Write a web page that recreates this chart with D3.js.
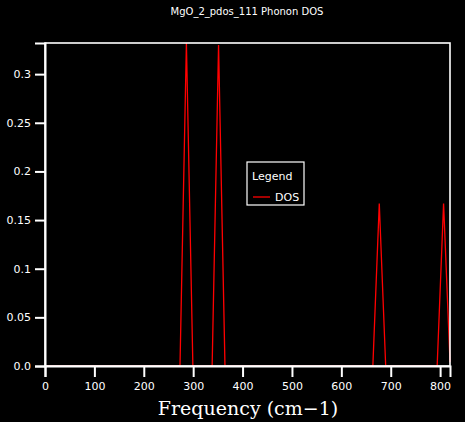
<!DOCTYPE html>
<html>
<head>
<meta charset="utf-8">
<script src="https://cdn.jsdelivr.net/npm/d3@7"></script>
<style>
  html, body { margin: 0; padding: 0; background: #000; }
  svg { display: block; }
</style>
</head>
<body>
<div id="chart"></div>
<script>
// ---- Data ----
const title = "MgO_2_pdos_111 Phonon DOS";
const xLabel = "Frequency (cm\u22121)";
const seriesName = "DOS";
const frequencies = [0, 273.3, 286.3, 299.4, 338.4, 351.4, 364.4, 663.8, 676.8, 689.8, 794.0, 807.0, 820.0];
const dosValues   = [0, 0,     0.332, 0,     0,     0.330, 0,     0,     0.167, 0,     0,     0.167, 0.004];
const xTicks = [0, 100, 200, 300, 400, 500, 600, 700, 800];
const xTickLabels = ["0", "100", "200", "300", "400", "500", "600", "700", "800"];
const yTicks = [0, 0.05, 0.1, 0.15, 0.2, 0.25, 0.3];
const yTickLabels = ["0.0", "0.05", "0.1", "0.15", "0.2", "0.25", "0.3"];
const xDomain = [0, 820];
const yDomain = [0, 0.332];

// ---- Layout ----
const W = 465, H = 422;
const pLeft = 45, pRight = 450, pTop = 43, pBottom = 366;

const svg = d3.select("#chart").append("svg")
  .attr("width", W).attr("height", H)
  .style("background", "#000");

svg.append("rect").attr("width", W).attr("height", H).attr("fill", "#000");

const x = d3.scaleLinear().domain(xDomain).range([pLeft, pRight]);
const y = d3.scaleLinear().domain(yDomain).range([pBottom, pTop]);

const points = frequencies.map((f, i) => ({ f, v: dosValues[i] }));

// clip for the series
svg.append("clipPath").attr("id", "plotclip")
  .append("rect").attr("x", pLeft).attr("y", pTop)
  .attr("width", pRight - pLeft + 1).attr("height", pBottom - pTop);

// series line
svg.append("path")
  .datum(points)
  .attr("clip-path", "url(#plotclip)")
  .attr("fill", "none")
  .attr("stroke", "#ff0000")
  .attr("stroke-width", 1.3)
  .attr("d", d3.line().x(d => x(d.f)).y(d => y(d.v)));

// frame
svg.append("rect")
  .attr("x", pLeft).attr("y", pTop)
  .attr("width", pRight - pLeft).attr("height", pBottom - pTop)
  .attr("fill", "none").attr("stroke", "#fff").attr("stroke-width", 1.6);

// x axis
const xAxis = d3.axisBottom(x)
  .tickValues(xTicks)
  .tickSize(11)
  .tickPadding(5)
  .tickFormat((d, i) => xTickLabels[i]);
const gx = svg.append("g").attr("transform", `translate(0,${pBottom})`).call(xAxis);
gx.select(".domain").attr("stroke", "#fff").attr("stroke-width", 2);
gx.selectAll(".tick line").attr("stroke", "#fff").attr("stroke-width", 2);
gx.selectAll(".tick text")
  .attr("fill", "#fff")
  .style("font-family", "DejaVu Sans")
  .style("font-size", "11px");

// y axis
const yAxis = d3.axisLeft(y)
  .tickValues(yTicks)
  .tickSize(10)
  .tickPadding(4)
  .tickFormat((d, i) => yTickLabels[i]);
const gy = svg.append("g").attr("transform", `translate(${pLeft},0)`).call(yAxis);
gy.select(".domain").attr("stroke", "#fff").attr("stroke-width", 2);
gy.selectAll(".tick line").attr("stroke", "#fff").attr("stroke-width", 2);
gy.selectAll(".tick text")
  .attr("fill", "#fff")
  .style("font-family", "DejaVu Sans")
  .style("font-size", "11px");

// title
svg.append("text")
  .attr("x", 247).attr("y", 15)
  .attr("text-anchor", "middle")
  .attr("fill", "#fff")
  .style("font-family", "DejaVu Sans")
  .style("font-size", "10px")
  .text(title);

// x label
svg.append("text")
  .attr("x", 248).attr("y", 415)
  .attr("text-anchor", "middle")
  .attr("fill", "#fff")
  .style("font-family", "DejaVu Serif")
  .style("font-size", "19px")
  .text(xLabel);

// legend
const lg = svg.append("g");
lg.append("rect")
  .attr("x", 247).attr("y", 162)
  .attr("width", 57).attr("height", 43)
  .attr("fill", "#000").attr("stroke", "#fff").attr("stroke-width", 1.2);
lg.append("text")
  .attr("x", 252).attr("y", 180)
  .attr("fill", "#fff")
  .style("font-family", "DejaVu Sans")
  .style("font-size", "11px")
  .text("Legend");
lg.append("line")
  .attr("x1", 253).attr("x2", 270)
  .attr("y1", 197).attr("y2", 197)
  .attr("stroke", "#ff0000").attr("stroke-width", 1.3);
lg.append("text")
  .attr("x", 275).attr("y", 201)
  .attr("fill", "#fff")
  .style("font-family", "DejaVu Sans")
  .style("font-size", "11px")
  .text(seriesName);
</script>
</body>
</html>
